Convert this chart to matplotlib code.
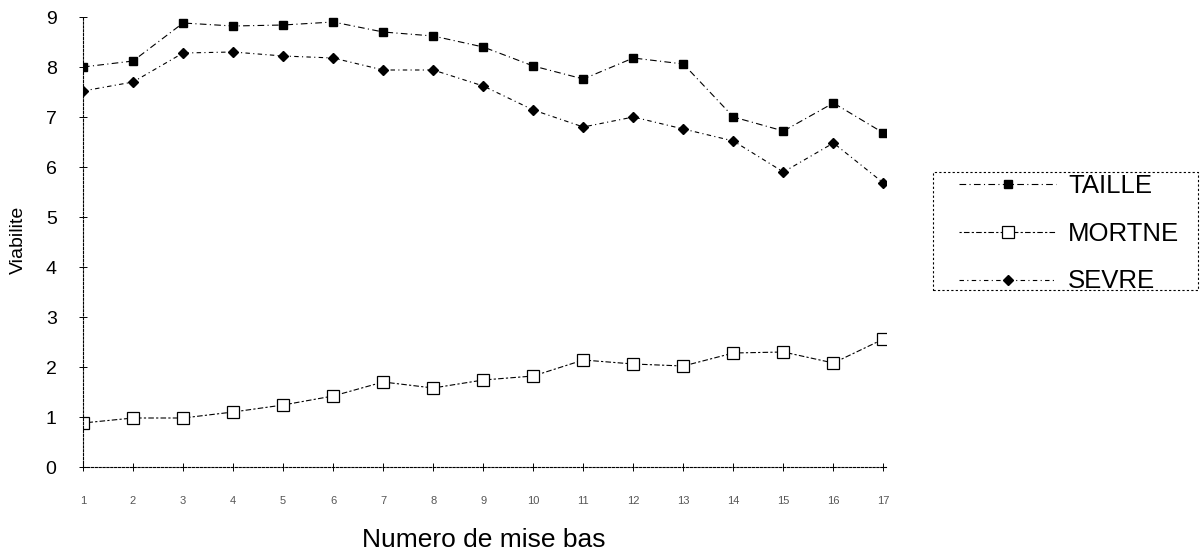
import matplotlib
matplotlib.use("Agg")
import matplotlib.pyplot as plt
from matplotlib.patches import Rectangle

plt.rcParams['font.family'] = ['Liberation Sans', 'DejaVu Sans']

x = list(range(1, 18))
x_labels = [str(i) for i in x]
taille = [8.0, 8.12, 8.88, 8.82, 8.84, 8.9, 8.7, 8.62, 8.4, 8.02, 7.76, 8.18, 8.06, 7.0, 6.72, 7.28, 6.68]
mortne = [0.88, 0.98, 0.98, 1.1, 1.24, 1.42, 1.7, 1.58, 1.74, 1.82, 2.14, 2.06, 2.02, 2.28, 2.3, 2.08, 2.56]
sevre = [7.52, 7.7, 8.28, 8.3, 8.22, 8.18, 7.94, 7.94, 7.62, 7.14, 6.8, 7.0, 6.76, 6.52, 5.9, 6.48, 5.68]
y_ticks = list(range(0, 10))

fig = plt.figure(figsize=(12.02, 5.56), dpi=100)
ax = fig.add_axes([83/1202, 1-467/556, (886-83)/1202, (467-17)/556])

ax.plot(x, taille, color='black', lw=0.8, linestyle=(0, (6, 3, 1, 3)),
        marker='s', markersize=6, markerfacecolor='black', markeredgecolor='black', label='TAILLE')
ax.plot(x, mortne, color='black', lw=0.8, linestyle=(0, (2, 2, 5, 2)),
        marker='s', markersize=8, markerfacecolor='white', markeredgecolor='black', markeredgewidth=0.9, label='MORTNE')
ax.plot(x, sevre, color='black', lw=0.8, linestyle=(0, (4, 3, 1, 3)),
        marker='D', markersize=5, markerfacecolor='black', markeredgecolor='black', label='SEVRE')

ax.set_xlim(1, 17.05)
ax.set_ylim(0, 9)
ax.set_xticks(x)
ax.set_xticklabels(x_labels, fontsize=8, color='#555555')
ax.set_yticks(y_ticks)
ax.set_yticklabels([str(v) for v in y_ticks], fontsize=14)
ax.tick_params(axis='x', direction='inout', length=6, width=0.7, pad=18)
ax.tick_params(axis='y', direction='inout', length=6, width=0.7, pad=16)

for s in ['top', 'right']:
    ax.spines[s].set_visible(False)
for s in ['left', 'bottom']:
    ax.spines[s].set_linestyle((0, (2, 1.5)))
    ax.spines[s].set_linewidth(0.8)

fig.text(484/1202, 1-540/556, 'Numero de mise bas', ha='center', va='center', fontsize=19)
fig.text(18/1202, 1-240/556, 'Viabilite', ha='center', va='center', rotation=90, fontsize=14)

leg = fig.legend(loc='upper left', bbox_to_anchor=(951/1202, 1-166/556), fontsize=18.5,
                 handlelength=3.8, handletextpad=0.45, labelspacing=0.93,
                 borderpad=0.3, borderaxespad=0, fancybox=False, frameon=False)

fig.patches.append(Rectangle((933/1202, 1-290/556), (1198-933)/1202, (290-172)/556,
                             transform=fig.transFigure, fill=False, edgecolor='black',
                             linewidth=0.8, linestyle=(0, (2, 2))))

fig.savefig('out.png', dpi=100)
